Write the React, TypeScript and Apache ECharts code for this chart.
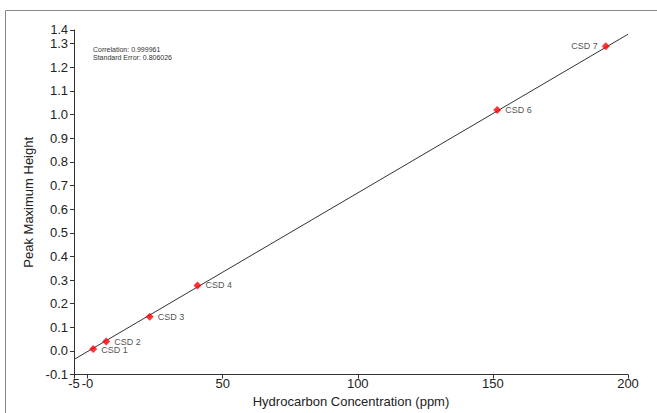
import React, { useEffect, useRef } from "react";
import * as echarts from "echarts";

const pointNames = ["CSD 1", "CSD 2", "CSD 3", "CSD 4", "CSD 6", "CSD 7"];
const concentration = [2.1, 6.9, 23.0, 40.7, 151.6, 191.8];
const peakHeight = [0.008, 0.04, 0.145, 0.277, 1.02, 1.289];
const fitLineX = [-5, 200];
const fitLineY = [-0.036, 1.34];
const xTicks = [-5, 0, 50, 100, 150, 200];
const yTicks = [-0.1, 0, 0.1, 0.2, 0.3, 0.4, 0.5, 0.6, 0.7, 0.8, 0.9, 1.0, 1.1, 1.2, 1.3, 1.358];
const statsText = ["Correlation: 0.999961", "Standard Error: 0.806026"];

export default function App() {
  const ref = useRef<HTMLDivElement>(null);
  useEffect(() => {
    if (!ref.current) return;
    const chart = echarts.init(ref.current, null, { renderer: "svg" });
    const font = "'Liberation Sans', Arial, sans-serif";
    chart.setOption({
      animation: false,
      backgroundColor: "#ffffff",
      textStyle: { fontFamily: font },
      grid: { left: 74, top: 30, right: 29, bottom: 35, containLabel: false },
      xAxis: {
        type: "value",
        min: -5,
        max: 200,
        name: "Hydrocarbon Concentration (ppm)",
        nameLocation: "middle",
        nameGap: 15,
        nameTextStyle: { fontSize: 13, color: "#222", fontFamily: font },
        splitLine: { show: false },
        axisLine: { onZero: false, lineStyle: { color: "#333", width: 1 } },
        axisTick: { show: true, length: 4, inside: false, customValues: xTicks, lineStyle: { color: "#333" } },
        axisLabel: {
          customValues: xTicks,
          margin: 3,
          fontSize: 13,
          lineHeight: 12,
          color: "#222",
          fontFamily: font,
          formatter: (v: number) => (v === 0 ? "-0" : String(v)),
        },
      },
      yAxis: {
        type: "value",
        min: -0.1,
        max: 1.358,
        name: "Peak Maximum Height",
        nameLocation: "middle",
        nameGap: 38,
        nameRotate: 90,
        nameTextStyle: { fontSize: 13, color: "#222", fontFamily: font },
        splitLine: { show: false },
        axisLine: { show: true, onZero: false, lineStyle: { color: "#333", width: 1 } },
        axisTick: { show: true, length: 4, customValues: yTicks, lineStyle: { color: "#333" } },
        axisLabel: {
          customValues: yTicks,
          margin: 6,
          fontSize: 13,
          lineHeight: 12,
          color: "#222",
          fontFamily: font,
          formatter: (v: number) => (v > 1.35 ? "{top|" + v.toFixed(1) + "}" : v.toFixed(1)),
          rich: { top: { fontSize: 12.5, lineHeight: 11, color: "#222", fontFamily: font } },
        },
      },
      series: [
        {
          type: "line",
          data: fitLineX.map((x, i) => [x, fitLineY[i]]),
          showSymbol: false,
          symbol: "none",
          lineStyle: { color: "#333", width: 1 },
          silent: true,
          z: 1,
        },
        {
          type: "scatter",
          symbol: "diamond",
          symbolSize: 8,
          itemStyle: { color: "#ff0000" },
          z: 3,
          data: concentration.map((x, i) => ({
            value: [x, peakHeight[i]],
            name: pointNames[i],
            label: {
              show: true,
              formatter: pointNames[i],
              position: i === concentration.length - 1 ? "left" : "right",
              distance: 4,
              offset: i === 0 ? [0, 1] : [0, 0],
              fontSize: 9,
              lineHeight: 8,
              color: "#222",
              fontFamily: font,
            },
          })),
        },
      ],
      graphic: [
        { type: "line", shape: { x1: 5.5, y1: 10.5, x2: 657, y2: 10.5 }, style: { stroke: "#888", lineWidth: 1 } },
        { type: "line", shape: { x1: 5.5, y1: 10.5, x2: 5.5, y2: 413 }, style: { stroke: "#888", lineWidth: 1 } },
        {
          type: "text",
          x: 93,
          y: 46,
          style: { text: statsText[0], fontSize: 7, fill: "#333", font: `7px ${font}` },
        },
        {
          type: "text",
          x: 93,
          y: 54,
          style: { text: statsText[1], fontSize: 7, fill: "#333", font: `7px ${font}` },
        },
      ],
    });
    return () => chart.dispose();
  }, []);
  return (
    <div
      ref={ref}
      style={{ position: "fixed", left: 0, top: 0, width: 657, height: 413, background: "#fff" }}
    />
  );
}
